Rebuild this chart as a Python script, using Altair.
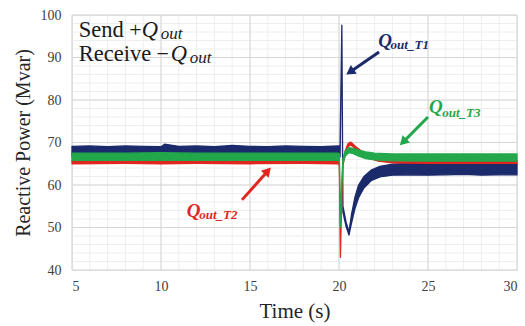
import math
import altair as alt
import pandas as pd

# ---- data -------------------------------------------------------------
# Q_out_T1 (navy): time, lower and upper envelope of the noisy trace
t1_time = [5, 6, 7, 8, 9, 10, 10.2, 11, 12, 13, 14, 15, 16, 17, 18, 19, 19.95,
           20.06, 20.16, 20.22, 20.4, 20.56, 20.7, 20.9, 21.1, 21.4, 21.8,
           22.3, 23, 24, 25, 26, 27, 28, 29, 30]
t1_low = [66.6, 66.7, 66.6, 66.7, 66.6, 66.6, 66.8, 66.6, 66.7, 66.6, 66.7, 66.6, 66.6, 66.7, 66.6, 66.6, 66.6,
          66.6, 96.6, 53.6, 50.2, 48.2, 51.0, 54.5, 57.0, 59.3, 61.0,
          61.9, 62.3, 62.4, 62.3, 62.4, 62.5, 62.3, 62.4, 62.4]
t1_high = [69.1, 69.2, 69.0, 69.2, 69.1, 69.0, 69.6, 69.1, 69.2, 69.0, 69.3, 69.1, 69.0, 69.2, 69.1, 69.0, 69.2,
           69.1, 97.6, 55.0, 51.2, 49.0, 53.0, 57.2, 60.0, 62.0, 63.5,
           64.4, 64.9, 65.1, 65.0, 65.1, 65.2, 65.0, 65.1, 65.1]

# Q_out_T2 (red)
t2_time = [5, 8, 10, 12, 15, 18, 19.95,
           20.02, 20.08, 20.14, 20.22, 20.35, 20.5, 20.65, 20.8, 21.0, 21.3, 21.7,
           22.2, 23, 25, 27, 30]
t2_low = [65.0, 65.1, 65.0, 65.1, 65.0, 65.1, 65.0,
          64.5, 43.0, 55.0, 64.5, 67.3, 69.0, 69.4, 69.0, 68.2, 67.3, 66.3,
          65.6, 65.2, 65.1, 65.1, 65.1]
t2_high = [65.8, 65.8, 65.9, 65.8, 65.8, 65.8, 65.8,
           65.5, 43.6, 56.0, 65.5, 68.0, 69.7, 70.1, 69.6, 68.8, 67.9, 66.9,
           66.2, 65.9, 65.8, 65.8, 65.8]

# Q_out_T3 (green)
t3_time = [5, 8, 10, 12, 15, 18, 19.95,
           20.02, 20.08, 20.14, 20.22, 20.35, 20.55, 20.8, 21.1, 21.5, 22.0,
           23, 25, 27, 30]
t3_low = [65.8, 65.8, 65.8, 65.8, 65.8, 65.8, 65.8,
          65.6, 50.2, 58.0, 65.0, 66.8, 67.6, 67.4, 66.8, 66.2, 65.9,
          65.7, 65.6, 65.6, 65.6]
t3_high = [67.5, 67.5, 67.6, 67.5, 67.5, 67.5, 67.5,
           67.3, 51.0, 59.0, 66.2, 68.0, 68.8, 68.6, 68.2, 67.8, 67.5,
           67.3, 67.3, 67.3, 67.3]

# axis ticks and gridlines
x_ticks = [5, 10, 15, 20, 25, 30]
y_ticks = [40, 50, 60, 70, 80, 90, 100]
x_minor = list(range(5, 31))
y_minor = list(range(40, 101, 2))

NAVY = "#1b2a6b"
RED = "#e0261f"
GREEN = "#22a84b"
SERIF = "Liberation Serif"

W, H = 445, 255
X_DOM, Y_DOM = [5, 30], [40, 100]

x_scale = alt.Scale(domain=X_DOM, nice=False, zero=False)
y_scale = alt.Scale(domain=Y_DOM, nice=False, zero=False)

X_AXIS = alt.Axis(values=x_ticks, title="Time (s)", grid=False, ticks=False, domain=False,
                  labelFont=SERIF, labelFontSize=14, labelColor="#404040", labelPadding=9,
                  titleFont=SERIF, titleFontSize=21, titleFontWeight="normal",
                  titleColor="#262626", titlePadding=7)
Y_AXIS = alt.Axis(values=y_ticks, title="Reactive Power (Mvar)", grid=False, ticks=False,
                  domain=False, labelFont=SERIF, labelFontSize=14, labelColor="#404040",
                  labelPadding=11, titleFont=SERIF, titleFontSize=20,
                  titleFontWeight="normal", titleColor="#262626", titlePadding=7)


def xq(field):
    return alt.X(field, type="quantitative", scale=x_scale, axis=X_AXIS)


def yq(field):
    return alt.Y(field, type="quantitative", scale=y_scale, axis=Y_AXIS)


def band(time, low, high, color):
    df = pd.DataFrame({"t": time, "lo": low, "hi": high})
    return alt.Chart(df).mark_area(
        color=color, stroke=color, strokeWidth=1.3, strokeJoin="round", opacity=1
    ).encode(x=xq("t"), y=yq("lo"), y2="hi:Q")


# gridlines
minor_x = alt.Chart(pd.DataFrame({"v": x_minor})).mark_rule(color="#eeeeee", strokeWidth=1).encode(x=xq("v"))
minor_y = alt.Chart(pd.DataFrame({"v": y_minor})).mark_rule(color="#eeeeee", strokeWidth=1).encode(y=yq("v"))
major_x = alt.Chart(pd.DataFrame({"v": x_ticks})).mark_rule(color="#d6d6d6", strokeWidth=1).encode(x=xq("v"))
major_y = alt.Chart(pd.DataFrame({"v": y_ticks})).mark_rule(color="#d6d6d6", strokeWidth=1).encode(y=yq("v"))

# traces
traces = band(t1_time, t1_low, t1_high, NAVY) + band(t2_time, t2_low, t2_high, RED) + \
    band(t3_time, t3_low, t3_high, GREEN)

# ---- annotations ------------------------------------------------------
px_s = W / (X_DOM[1] - X_DOM[0])
px_v = H / (Y_DOM[1] - Y_DOM[0])


def txt(rows, size, color, style="normal", weight="normal"):
    df = pd.DataFrame(rows, columns=["t", "v", "s"])
    return alt.Chart(df).mark_text(
        align="left", baseline="alphabetic", font=SERIF, fontSize=size,
        fontStyle=style, fontWeight=weight, color=color
    ).encode(x=xq("t"), y=yq("v"), text="s:N")


# sign convention note in the top-left corner
legend_words = txt([(5.38, 94.8, "Send"), (5.38, 89.2, "Receive")], 22.5, "#1a1a1a")
legend_signs = txt([(8.22, 94.8, "+"), (9.75, 89.2, "\u2212")], 22, "#1a1a1a")
legend_q = txt([(8.92, 94.8, "Q"), (10.55, 89.2, "Q")], 22.5, "#1a1a1a", style="italic")
legend_sub = txt([(9.98, 94.3, "out"), (11.61, 88.7, "out")], 17, "#1a1a1a", style="italic")

lab_rows = [
    ("T1", 22.2, 92.5, 22.9, 92.0, NAVY),
    ("T3", 25.05, 77.0, 25.8, 76.1, GREEN),
    ("T2", 11.45, 52.5, 12.15, 52.0, RED),
]
labels = []
for name, qx, qy, sx, sy, col in lab_rows:
    labels.append(txt([(qx, qy, "Q")], 19, col, style="italic", weight="bold"))
    labels.append(txt([(sx, sy, "out_" + name)], 13, col, style="italic", weight="bold"))

# arrows: tail -> head
arrow_tail_t = [22.25, 25.0, 14.55]
arrow_tail_v = [91.3, 76.0, 56.5]
arrow_head_t = [20.62, 23.6, 16.0]
arrow_head_v = [86.6, 70.1, 63.3]
arrow_color = [NAVY, GREEN, RED]

arrows = []
for tt, tv, ht, hv, col in zip(arrow_tail_t, arrow_tail_v, arrow_head_t, arrow_head_v, arrow_color):
    dx = (ht - tt) * px_s
    dy = -(hv - tv) * px_v
    ang = math.degrees(math.atan2(dx, -dy)) % 360
    seg = pd.DataFrame({"t": [tt], "v": [tv], "t2": [ht], "v2": [hv]})
    arrows.append(alt.Chart(seg).mark_rule(color=col, strokeWidth=3).encode(
        x=xq("t"), y=yq("v"), x2="t2:Q", y2="v2:Q"))
    arrows.append(alt.Chart(seg).mark_point(
        shape="triangle-up", filled=True, size=110, color=col, opacity=1, angle=ang
    ).encode(x=xq("t2"), y=yq("v2")))

chart = alt.layer(
    minor_x, minor_y, major_x, major_y, traces,
    legend_words, legend_signs, legend_q, legend_sub, *labels, *arrows
).properties(
    width=W, height=H,
    autosize=alt.AutoSizeParams(type="none"),
    padding={"left": 72, "top": 15, "right": 8, "bottom": 56},
).configure_view(stroke="#d0d0d0", strokeWidth=1).configure(background="white")

chart.save("out.html", embed_options={"renderer": "svg", "actions": False})
